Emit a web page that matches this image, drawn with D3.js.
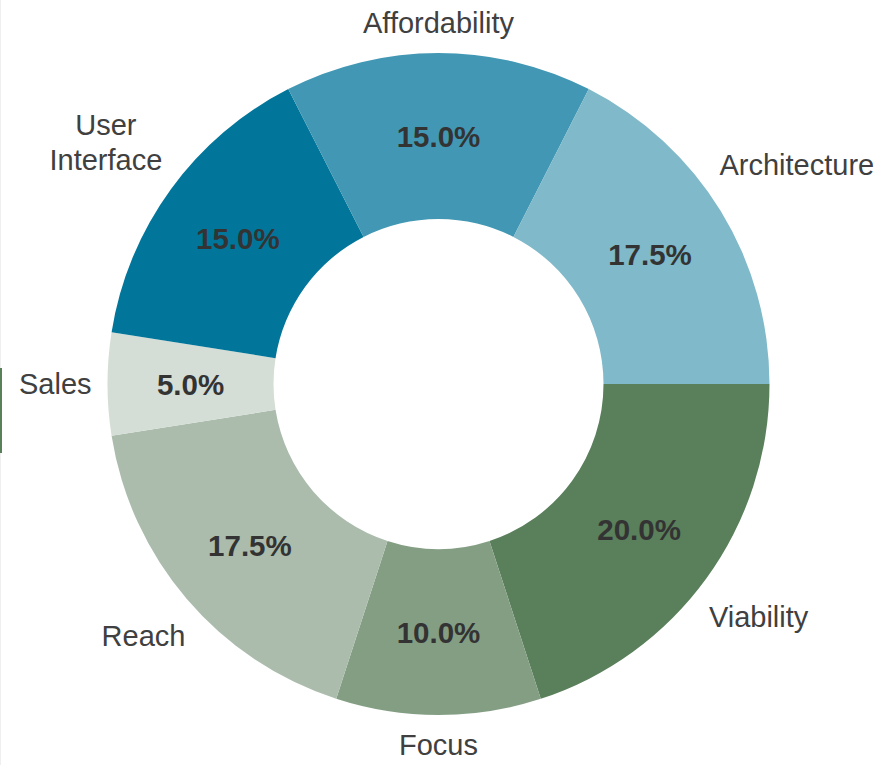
<!DOCTYPE html>
<html>
<head>
<meta charset="utf-8">
<script src="https://cdn.jsdelivr.net/npm/d3@7/dist/d3.min.js"></script>
<style>
  html, body { margin: 0; padding: 0; background: #ffffff; }
  svg { display: block; }
</style>
</head>
<body>
<svg id="chart" width="896" height="765"></svg>
<script>
// Slices listed clockwise, starting at three o'clock
const categories = ["Viability", "Focus", "Reach", "Sales", "User Interface", "Affordability", "Architecture"];
const shares = [20.0, 10.0, 17.5, 5.0, 15.0, 15.0, 17.5];
const sliceColors = ["#5a7f5b", "#849e84", "#abbcad", "#d4ddd6", "#02769a", "#4298b4", "#7fb9ca"];
// Category labels broken into lines
const labelLines = [["Viability"], ["Focus"], ["Reach"], ["Sales"], ["User", "Interface"], ["Affordability"], ["Architecture"]];

const width = 896, height = 765;
const cx = 438.5, cy = 384;
const outerR = 331, innerR = 165;
const fontFamily = "Arial, 'Liberation Sans', Helvetica, sans-serif";
const labelSize = 29, pctSize = 29.5;

const svg = d3.select("#chart");

// faint frame remnants along the left edge
svg.append("line")
  .attr("x1", 0.5).attr("x2", 0.5).attr("y1", 0).attr("y2", height)
  .attr("stroke", "#efefef").attr("stroke-width", 1);
svg.append("line")
  .attr("x1", 1).attr("x2", 1).attr("y1", 368).attr("y2", 453)
  .attr("stroke", "#5a7f5b").attr("stroke-width", 2);

const data = categories.map((c, i) => ({ name: c, value: shares[i], color: sliceColors[i], lines: labelLines[i] }));

const pie = d3.pie()
  .value(d => d.value)
  .sort(null)
  .startAngle(Math.PI / 2)
  .endAngle(Math.PI / 2 + 2 * Math.PI);

const arc = d3.arc().innerRadius(innerR).outerRadius(outerR);
const midArc = d3.arc().innerRadius((innerR + outerR) / 2).outerRadius((innerR + outerR) / 2);

const g = svg.append("g").attr("transform", `translate(${cx},${cy})`);
const arcs = pie(data);

g.selectAll("path.slice")
  .data(arcs)
  .join("path")
  .attr("class", "slice")
  .attr("d", arc)
  .attr("fill", d => d.data.color);

// percentage labels inside the ring
g.selectAll("text.pct")
  .data(arcs)
  .join("text")
  .attr("class", "pct")
  .attr("transform", d => `translate(${midArc.centroid(d)})`)
  .attr("text-anchor", "middle")
  .attr("dy", "0.36em")
  .attr("font-family", fontFamily)
  .attr("font-weight", "bold")
  .attr("font-size", pctSize)
  .attr("fill", "#333333")
  .text(d => d.data.value.toFixed(1) + "%");

// category labels outside the ring, pushed out so the box clears the ring
const lineH = 35;
const gap = 16;
const labels = g.selectAll("g.lab")
  .data(arcs)
  .join("g")
  .attr("class", "lab");

labels.each(function (d) {
  const sel = d3.select(this);
  const n = d.data.lines.length;
  const t = sel.append("text")
    .attr("text-anchor", "middle")
    .attr("font-family", fontFamily)
    .attr("font-size", labelSize)
    .attr("fill", "#404040");
  d.data.lines.forEach((ln, k) => {
    t.append("tspan")
      .attr("x", 0)
      .attr("y", (k - (n - 1) / 2) * lineH)
      .attr("dy", "0.36em")
      .text(ln);
  });
  const bb = t.node().getBBox();
  const w = bb.width, h = (n - 1) * lineH + 28;
  const a = (d.startAngle + d.endAngle) / 2;
  const s = Math.sin(a), c = -Math.cos(a);
  const r = outerR + gap + Math.abs(w / 2 * s) + Math.abs(h / 2 * c);
  sel.attr("transform", `translate(${r * s},${r * c})`);
});
</script>
</body>
</html>
